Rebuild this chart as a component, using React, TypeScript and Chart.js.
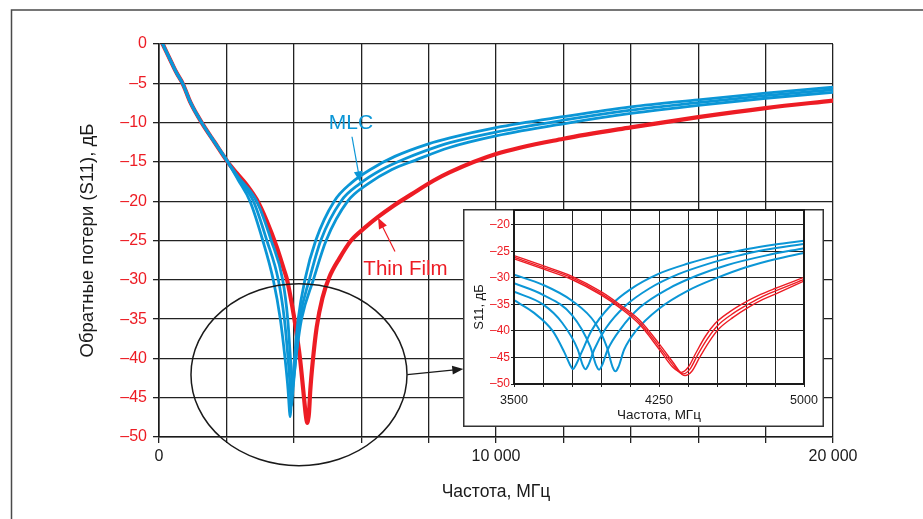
import React, { useEffect, useRef } from "react";
import { Chart, registerables } from "chart.js";

Chart.register(...registerables);

const BLUE = "#0b96d6";
const RED = "#ed1c24";
const INK = "#1a1a1a";
const FONT = "'Liberation Sans', Arial, sans-serif";

// ---------- main chart (0..20 000 MHz) ----------
const xTickMarks = [0, 10000, 20000];
const startFreq = [110, 376, 525, 700, 940, 1267, 1650, 2040];
const startS11 = [0, -2.4, -3.7, -5, -7.5, -10, -12.5, -15];

const mlcAFreq = [2350, 2700, 3080, 3390, 3600, 3740, 3830, 3870, 3890, 3910, 3950, 4020, 4130, 4330, 4650, 5200, 5700, 6300, 7000, 8000, 8635, 10000, 12000, 14000, 16000, 18000, 20000];
const mlcAS11 = [-17.3, -20, -25, -30, -35, -40, -44, -46.6, -47.4, -46.6, -44, -40, -35, -30, -25, -20, -17.7, -15.9, -14.3, -12.7, -11.95, -10.65, -9.25, -8.0, -7.1, -6.25, -5.5];

const mlcBFreq = [2350, 2800, 3200, 3540, 3720, 3830, 3890, 3915, 3930, 3945, 3985, 4060, 4180, 4460, 4800, 5400, 5950, 6600, 7300, 8300, 8635, 10000, 12000, 14000, 16000, 18000, 20000];
const mlcBS11 = [-17.1, -20, -25, -30, -35, -40, -43.5, -45.4, -46.0, -45.4, -43.5, -40, -35, -30, -25, -20, -17.8, -16.0, -14.6, -13.0, -12.55, -11.2, -9.7, -8.42, -7.45, -6.58, -5.82];

const mlcCFreq = [2350, 2900, 3330, 3670, 3820, 3900, 3940, 3955, 3965, 3975, 4010, 4090, 4230, 4580, 4960, 5600, 6200, 6900, 7600, 8600, 10000, 12000, 14000, 16000, 18000, 20000];
const mlcCS11 = [-16.9, -20, -25, -30, -35, -40, -42.5, -43.4, -43.8, -43.4, -42, -39, -35, -30, -25, -20, -17.8, -16.0, -14.8, -13.2, -11.7, -10.15, -8.84, -7.8, -6.9, -6.15];

const thinFilmFreq = [110, 376, 525, 700, 940, 1267, 1650, 2040, 2300, 2600, 2900, 3195, 3490, 3700, 3800, 3950, 4036, 4184, 4280, 4350, 4380, 4400, 4420, 4450, 4490, 4560, 4680, 4850, 5050, 5350, 5700, 6100, 6500, 6950, 7500, 8140, 8635, 10000, 12000, 14000, 16000, 18000, 20000];
const thinFilmS11 = [0, -2.4, -3.7, -5, -7.5, -10, -12.5, -15, -16.4, -17.9, -19.8, -22.5, -25.8, -28.6, -30, -33.3, -35.5, -40, -44, -47, -47.9, -48.2, -47.9, -47.0, -44.0, -40.5, -36.0, -32.3, -29.7, -27.3, -25.0, -23.4, -22.0, -20.6, -19.1, -17.4, -16.3, -14.0, -12.05, -10.6, -9.3, -8.15, -7.2];

// ---------- inset (3500..5000 MHz) ----------
const insetTickMarks = [3500, 4250, 5000];
const insAFreq = [3500, 3600, 3700, 3760, 3790, 3805, 3820, 3850, 3900, 4000, 4100, 4250, 4400, 4550, 4700, 4850, 5000];
const insAS11 = [-34.2, -36.5, -40.0, -44.0, -46.4, -47.2, -46.4, -44.0, -40.0, -35.2, -32.2, -29.2, -27.3, -25.8, -24.6, -23.7, -23.0];
const insBFreq = [3500, 3650, 3750, 3830, 3855, 3870, 3885, 3915, 3975, 4075, 4200, 4350, 4500, 4650, 4800, 5000];
const insBS11 = [-32.6, -35.0, -38.5, -43.5, -46.4, -47.2, -46.4, -43.5, -39.5, -35.3, -32.0, -29.3, -27.4, -25.9, -24.7, -23.6];
const insCFreq = [3500, 3650, 3800, 3895, 3925, 3940, 3955, 3985, 4050, 4150, 4300, 4450, 4600, 4800, 5000];
const insCS11 = [-31.0, -33.2, -37.0, -43.0, -46.5, -47.3, -46.5, -43.5, -39.7, -35.6, -32.0, -29.5, -27.6, -25.8, -24.4];
const insDFreq = [3500, 3650, 3800, 3920, 3980, 4010, 4025, 4040, 4070, 4130, 4250, 4400, 4550, 4700, 4850, 5000];
const insDS11 = [-29.4, -31.3, -34.3, -38.5, -43.0, -46.8, -47.6, -46.8, -43.5, -40.0, -35.8, -32.4, -30.0, -28.0, -26.5, -25.3];

const insRed1Freq = [3500, 3650, 3800, 3950, 4050, 4150, 4250, 4320, 4350, 4365, 4400, 4440, 4490, 4540, 4615, 4690, 4765, 4850, 5000];
const insRed1S11 = [-26.4, -28.3, -30.3, -33.2, -35.7, -38.8, -43.4, -46.8, -47.6, -47.8, -46.9, -44.2, -41.0, -38.6, -36.4, -34.7, -33.3, -32.0, -29.9];
const insRed2Freq = [3500, 3650, 3800, 3950, 4050, 4150, 4250, 4320, 4360, 4375, 4410, 4450, 4500, 4550, 4625, 4700, 4775, 4850, 5000];
const insRed2S11 = [-26.1, -28.0, -30.0, -32.9, -35.4, -38.4, -42.9, -46.3, -47.9, -48.1, -47.2, -44.5, -41.5, -39.1, -36.9, -35.2, -33.7, -32.5, -30.3];
const insRed3Freq = [3500, 3650, 3800, 3950, 4050, 4150, 4250, 4320, 4370, 4385, 4420, 4460, 4510, 4560, 4635, 4710, 4785, 4860, 5000];
const insRed3S11 = [-25.8, -27.7, -29.7, -32.6, -35.1, -38.0, -42.4, -45.8, -48.2, -48.4, -47.6, -45.0, -42.0, -39.6, -37.4, -35.6, -34.1, -32.9, -30.6];

const pts = (f: number[], d: number[]) => f.map((x, i) => ({ x, y: d[i] }));
const fmtThousands = (v: number) => (v === 0 ? "0" : String(v).replace(/\B(?=(\d{3})+(?!\d))/g, " "));
const fmtDb = (v: number) => (v === 0 ? "0" : "\u2013" + Math.abs(v));

function line(data: any[], color: string, width: number) {
  return {
    data,
    borderColor: color,
    borderWidth: width,
    pointRadius: 0,
    fill: false,
    cubicInterpolationMode: "monotone" as const,
    borderCapStyle: "round" as const,
    borderJoinStyle: "round" as const,
  };
}

function arrow(ctx: CanvasRenderingContext2D, x1: number, y1: number, x2: number, y2: number, color: string, lw: number, head: number) {
  const a = Math.atan2(y2 - y1, x2 - x1);
  ctx.save();
  ctx.strokeStyle = color;
  ctx.fillStyle = color;
  ctx.lineWidth = lw;
  ctx.beginPath();
  ctx.moveTo(x1, y1);
  ctx.lineTo(x2 - Math.cos(a) * head * 0.8, y2 - Math.sin(a) * head * 0.8);
  ctx.stroke();
  ctx.beginPath();
  ctx.moveTo(x2, y2);
  ctx.lineTo(x2 - head * Math.cos(a) + head * 0.4 * Math.sin(a), y2 - head * Math.sin(a) - head * 0.4 * Math.cos(a));
  ctx.lineTo(x2 - head * Math.cos(a) - head * 0.4 * Math.sin(a), y2 - head * Math.sin(a) + head * 0.4 * Math.cos(a));
  ctx.closePath();
  ctx.fill();
  ctx.restore();
}

const mainDecor = {
  id: "mainDecor",
  beforeDraw(chart: any) {
    const { ctx, width, height } = chart;
    ctx.save();
    ctx.fillStyle = "#fff";
    ctx.fillRect(0, 0, width, height);
    ctx.strokeStyle = "#4a4a4a";
    ctx.lineWidth = 1.5;
    ctx.beginPath();
    ctx.moveTo(11.5, height);
    ctx.lineTo(11.5, 10);
    ctx.lineTo(width, 10);
    ctx.stroke();
    ctx.restore();
  },
  afterDraw(chart: any) {
    const { ctx } = chart;
    const X = (v: number) => chart.scales.x.getPixelForValue(v);
    const Y = (v: number) => chart.scales.y.getPixelForValue(v);
    ctx.save();
    const cx = X(4154), cy = Y(-42.07);
    const rx = X(4154 + 3205) - cx, ry = Y(-42.07 - 11.58) - cy;
    ctx.strokeStyle = INK;
    ctx.lineWidth = 1.5;
    ctx.beginPath();
    ctx.ellipse(cx, cy, rx, ry, 0, 0, Math.PI * 2);
    ctx.stroke();
    arrow(ctx, X(7368), Y(-42.07), X(9030), Y(-41.35), INK, 1.3, 11);
    ctx.font = `21px ${FONT}`;
    ctx.textAlign = "center";
    ctx.textBaseline = "middle";
    ctx.fillStyle = BLUE;
    ctx.fillText("MLC", X(5697), Y(-10.08));
    arrow(ctx, X(5727), Y(-11.8), X(5970), Y(-17.6), BLUE, 1.2, 11);
    ctx.font = `20.5px ${FONT}`;
    ctx.fillStyle = RED;
    ctx.fillText("Thin Film", X(7315), Y(-28.7));
    arrow(ctx, X(7003), Y(-26.4), X(6499), Y(-22.1), RED, 1.2, 11);
    ctx.restore();
  },
};

const insetDecor = {
  id: "insetDecor",
  beforeDraw(chart: any) {
    const { ctx, width, height } = chart;
    ctx.save();
    ctx.fillStyle = "#fff";
    ctx.fillRect(0, 0, width, height);
    ctx.restore();
  },
  afterDraw(chart: any) {
    const { ctx, width, height, chartArea } = chart;
    ctx.save();
    ctx.strokeStyle = "#333";
    ctx.lineWidth = 1.5;
    ctx.strokeRect(0.75, 0.75, width - 1.5, height - 1.5);
    ctx.strokeStyle = INK;
    ctx.lineWidth = 2;
    ctx.strokeRect(chartArea.left, chartArea.top, chartArea.right - chartArea.left, chartArea.bottom - chartArea.top);
    ctx.translate(16, 98);
    ctx.rotate(-Math.PI / 2);
    ctx.fillStyle = INK;
    ctx.font = `13px ${FONT}`;
    ctx.textAlign = "center";
    ctx.textBaseline = "middle";
    ctx.fillText("S11, дБ", 0, 0);
    ctx.restore();
  },
};

export default function App() {
  const mainRef = useRef<HTMLCanvasElement>(null);
  const insetRef = useRef<HTMLCanvasElement>(null);

  useEffect(() => {
    const main = new Chart(mainRef.current as HTMLCanvasElement, {
      type: "line",
      data: {
        datasets: [
          line(pts(startFreq.concat(mlcAFreq), startS11.concat(mlcAS11)), BLUE, 2.8),
          line(pts(startFreq.concat(mlcBFreq), startS11.concat(mlcBS11)), BLUE, 2.8),
          line(pts(startFreq.concat(mlcCFreq), startS11.concat(mlcCS11)), BLUE, 2.8),
          line(pts(thinFilmFreq, thinFilmS11), RED, 4.2),
        ],
      },
      options: {
        animation: false,
        responsive: false,
        maintainAspectRatio: false,
        events: [],
        layout: { padding: { left: 0, top: 44, right: 90, bottom: 0 } },
        plugins: { legend: { display: false }, tooltip: { enabled: false } },
        scales: {
          x: {
            type: "linear",
            min: 0,
            max: 20000,
            afterFit: (s: any) => { s.height = 82; },
            afterBuildTicks: (s: any) => { s.ticks = []; for (let v = 0; v <= 20000; v += 2000) s.ticks.push({ value: v }); },
            ticks: {
              autoSkip: false,
              maxRotation: 0,
              padding: 4,
              color: INK,
              font: { family: FONT, size: 16 },
              callback: (v: any) => (xTickMarks.includes(Number(v)) ? fmtThousands(Number(v)) : ""),
            },
            grid: { color: "#222", lineWidth: 1.3, tickLength: 6 },
            border: { color: INK, width: 1.6 },
            title: { display: true, text: "Частота, МГц", color: INK, font: { family: FONT, size: 17.5 }, padding: { top: 0, bottom: 16 } },
          },
          y: {
            type: "linear",
            min: -50,
            max: 0,
            afterFit: (s: any) => { s.width = 159; },
            ticks: {
              stepSize: 5,
              padding: 6,
              color: RED,
              font: { family: FONT, size: 16 },
              callback: (v: any) => fmtDb(Number(v)),
            },
            grid: { color: "#222", lineWidth: 1.3, tickLength: 6 },
            border: { color: INK, width: 1.6 },
            title: { display: true, text: "Обратные потери (S11), дБ", color: INK, font: { family: FONT, size: 18.5 }, padding: { top: 77, bottom: 0 } },
          },
        },
      },
      plugins: [mainDecor],
    } as any);

    const inset = new Chart(insetRef.current as HTMLCanvasElement, {
      type: "line",
      data: {
        datasets: [
          line(pts(insRed1Freq, insRed1S11), RED, 1.4),
          line(pts(insRed2Freq, insRed2S11), RED, 1.4),
          line(pts(insRed3Freq, insRed3S11), RED, 1.4),
          line(pts(insAFreq, insAS11), BLUE, 2),
          line(pts(insBFreq, insBS11), BLUE, 2),
          line(pts(insCFreq, insCS11), BLUE, 2),
          line(pts(insDFreq, insDS11), BLUE, 2),
        ],
      },
      options: {
        animation: false,
        responsive: false,
        maintainAspectRatio: false,
        events: [],
        layout: { padding: { left: 0, top: 1, right: 20, bottom: 0 } },
        plugins: { legend: { display: false }, tooltip: { enabled: false } },
        scales: {
          x: {
            type: "linear",
            min: 3500,
            max: 5000,
            afterFit: (s: any) => { s.height = 43; },
            afterBuildTicks: (s: any) => { s.ticks = []; for (let v = 3500; v <= 5000; v += 150) s.ticks.push({ value: v }); },
            ticks: {
              autoSkip: false,
              maxRotation: 0,
              padding: 6,
              color: INK,
              font: { family: FONT, size: 12.5 },
              callback: (v: any) => (insetTickMarks.includes(Number(v)) ? String(v) : ""),
            },
            grid: { color: "#222", lineWidth: 1, tickLength: 3 },
            border: { color: INK, width: 2 },
            title: { display: true, text: "Частота, МГц", color: INK, font: { family: FONT, size: 13.5 }, padding: { top: 0, bottom: 4 } },
          },
          y: {
            type: "linear",
            min: -50,
            max: -17.2,
            afterFit: (s: any) => { s.width = 51; s.paddingTop = 0; s.paddingBottom = 0; },
            afterBuildTicks: (s: any) => { s.ticks = []; for (let v = -50; v <= -20; v += 5) s.ticks.push({ value: v }); },
            ticks: {
              padding: 1,
              color: RED,
              font: { family: FONT, size: 12 },
              callback: (v: any) => fmtDb(Number(v)),
            },
            grid: { color: "#222", lineWidth: 1, tickLength: 3 },
            border: { color: INK, width: 2 },
          },
        },
      },
      plugins: [insetDecor],
    } as any);

    return () => {
      main.destroy();
      inset.destroy();
    };
  }, []);

  return (
    <div style={{ position: "fixed", left: 0, top: 0, width: 923, height: 519, overflow: "hidden", background: "#fff" }}>
      <canvas ref={mainRef} width={923} height={519} style={{ position: "absolute", left: 0, top: 0, width: 923, height: 519 }} />
      <canvas ref={insetRef} width={361} height={218} style={{ position: "absolute", left: 463, top: 209, width: 361, height: 218 }} />
    </div>
  );
}
